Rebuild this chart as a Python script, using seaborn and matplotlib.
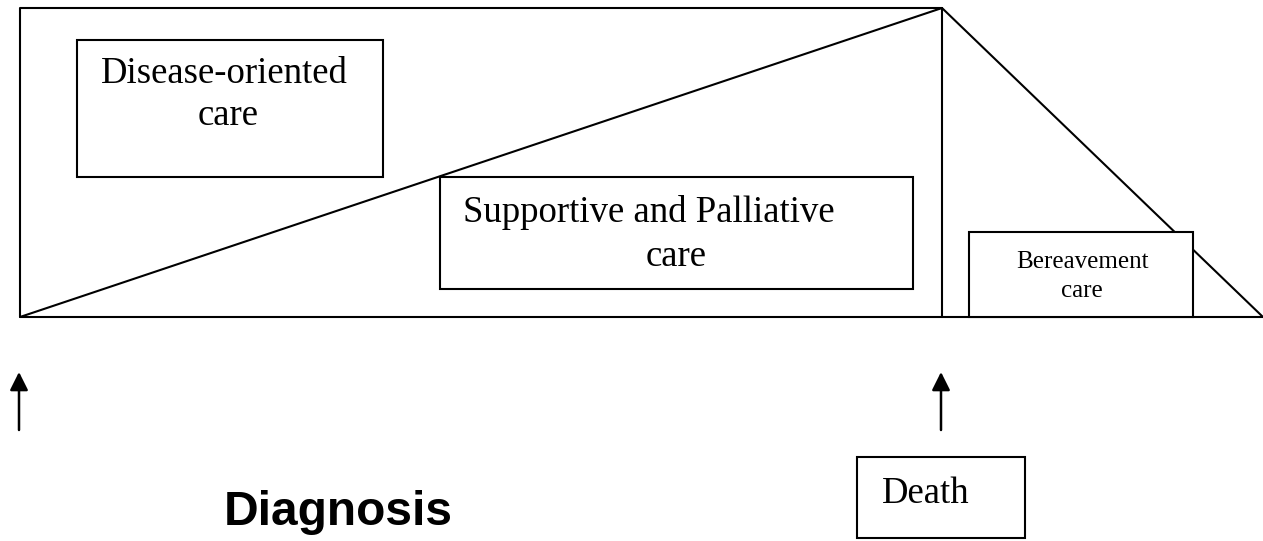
import matplotlib
matplotlib.use("Agg")
import matplotlib.pyplot as plt
import seaborn as sns
import pandas as pd
from matplotlib.patches import Rectangle

# outline of the care timeline (pixel-like coordinates, y down)
outline_x = [942, 20, 20, 942, 942, 1263]
outline_y = [8, 8, 317, 8, 317, 317]
base_x = [20, 942]
base_y = [317, 317]
bereave_x = [942, 1263]
bereave_y = [8, 317]

# boxes: x0, y0, x1, y1
box_names = ["disease", "supportive", "bereavement", "death"]
box_x0 = [77, 440, 969, 857]
box_y0 = [40, 177, 232, 457]
box_x1 = [383, 913, 1193, 1025]
box_y1 = [177, 289, 317, 538]

arrow_x = [19, 941]

sns.set_style("white")
plt.rcParams["font.family"] = ["Liberation Serif", "DejaVu Serif"]
plt.rcParams["text.color"] = "black"

fig = plt.figure(figsize=(12.63, 5.41), dpi=100)
ax = fig.add_axes([0, 0, 1, 1])
ax.set_xlim(0, 1263)
ax.set_ylim(541, 0)
ax.axis("off")

lw = 1.5
df_out = pd.DataFrame({"x": outline_x, "y": outline_y})
sns.lineplot(data=df_out, x="x", y="y", sort=False, color="black", lw=lw, ax=ax, estimator=None)
sns.lineplot(x=base_x, y=base_y, sort=False, color="black", lw=lw, ax=ax, estimator=None)
sns.lineplot(x=bereave_x, y=bereave_y, sort=False, color="black", lw=lw, ax=ax, estimator=None)

for x0, y0, x1, y1 in zip(box_x0, box_y0, box_x1, box_y1):
    ax.add_patch(Rectangle((x0, y0), x1 - x0, y1 - y0, facecolor="white",
                           edgecolor="black", lw=lw, zorder=3))

# text
big = 26.5
ax.text(224, 83, "Disease-oriented", fontsize=big, ha="center", va="baseline", zorder=4)
ax.text(228, 125, "care", fontsize=big, ha="center", va="baseline", zorder=4)
ax.text(463, 222, "Supportive and Palliative", fontsize=big, ha="left", va="baseline", zorder=4)
ax.text(676, 266, "care", fontsize=big, ha="center", va="baseline", zorder=4)
ax.text(1082, 268, "Bereavement", fontsize=18, ha="center", va="baseline", zorder=4)
ax.text(1082, 297, "care", fontsize=18, ha="center", va="baseline", zorder=4)
ax.text(882, 503, "Death", fontsize=big, ha="left", va="baseline", zorder=4)
ax.text(338, 525, "Diagnosis", fontsize=34.5, fontweight="bold", ha="center", va="baseline",
        family=["Liberation Sans", "DejaVu Sans"], zorder=4)

for ax_x in arrow_x:
    ax.annotate("", xy=(ax_x, 372), xytext=(ax_x, 430),
                arrowprops=dict(arrowstyle="-|>,head_length=1.1,head_width=0.55",
                                color="black", lw=1.8, shrinkA=0, shrinkB=0))

fig.savefig("out.png", dpi=100)
